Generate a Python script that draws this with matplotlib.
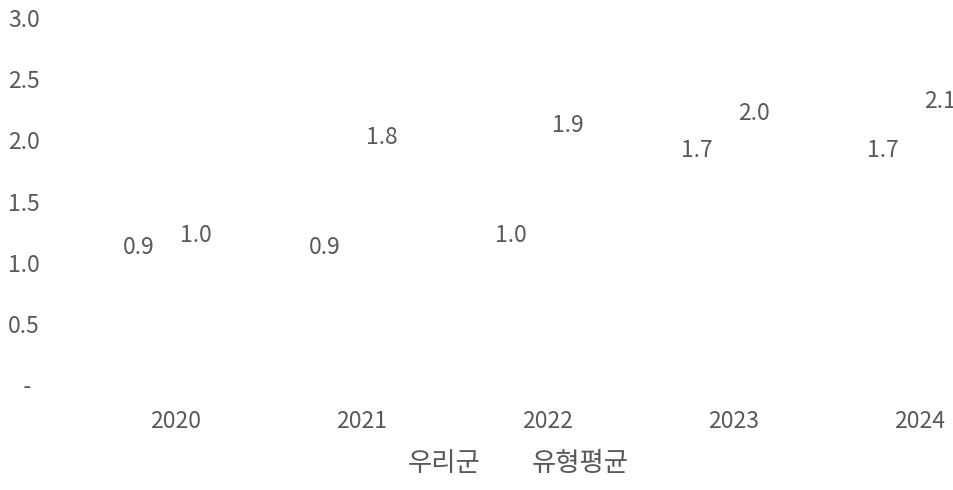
import matplotlib

matplotlib.use("Agg")
import matplotlib.pyplot as plt
from matplotlib.lines import Line2D

plt.rcParams["font.family"] = ["Noto Sans CJK KR", "DejaVu Sans"]

years = ["2020", "2021", "2022", "2023", "2024"]
our_county = [0.9, 0.9, 1.0, 1.7, 1.7]      # 우리군
type_avg = [1.0, 1.8, 1.9, 2.0, 2.1]        # 유형평균
series_names = ["우리군", "유형평균"]
y_ticks = [0, 0.5, 1.0, 1.5, 2.0, 2.5, 3.0]
y_tick_labels = ["   -", "0.5", "1.0", "1.5", "2.0", "2.5", "3.0"]

TXT = "#595959"
FS = 16.5

fig = plt.figure(figsize=(9.54, 4.9), dpi=100)
ax = fig.add_axes([83 / 954, (490 - 385) / 490, 1 - 83 / 954, (385 - 18) / 490])

x = range(len(years))
# 마커/선은 보이지 않음 (라벨만 표시)
ax.plot(x, our_county, alpha=0)
ax.plot(x, type_avg, alpha=0)

for i, v in enumerate(our_county):
    ax.annotate(f"{v:.1f}", (i, v), xytext=(-37, 27), textcoords="offset pixels",
                ha="center", va="center", fontsize=FS, color=TXT)
for i, v in enumerate(type_avg):
    ax.annotate(f"{v:.1f}", (i, v), xytext=(20, 27), textcoords="offset pixels",
                ha="center", va="center", fontsize=FS, color=TXT)

ax.set_xlim(-0.5, (954 - 176) / 186)
ax.set_ylim(0, 3.0)
ax.set_xticks(list(x))
ax.set_xticklabels(years, fontsize=FS, color=TXT)
ax.set_yticks(y_ticks)
ax.set_yticklabels(y_tick_labels, fontsize=FS, color=TXT)
ax.tick_params(axis="x", length=0, pad=18)
ax.tick_params(axis="y", length=0, pad=54)
for lbl in ax.get_yticklabels():
    lbl.set_horizontalalignment("left")
for s in ax.spines.values():
    s.set_visible(False)

handles = [Line2D([], [], alpha=0) for _ in series_names]
fig.legend(handles, series_names, loc="center", bbox_to_anchor=(0.524, 0.055),
           ncol=2, frameon=False, fontsize=19, labelcolor=TXT,
           handlelength=1.0, handletextpad=0.4, columnspacing=0.53)

fig.savefig("out.png", dpi=100)
